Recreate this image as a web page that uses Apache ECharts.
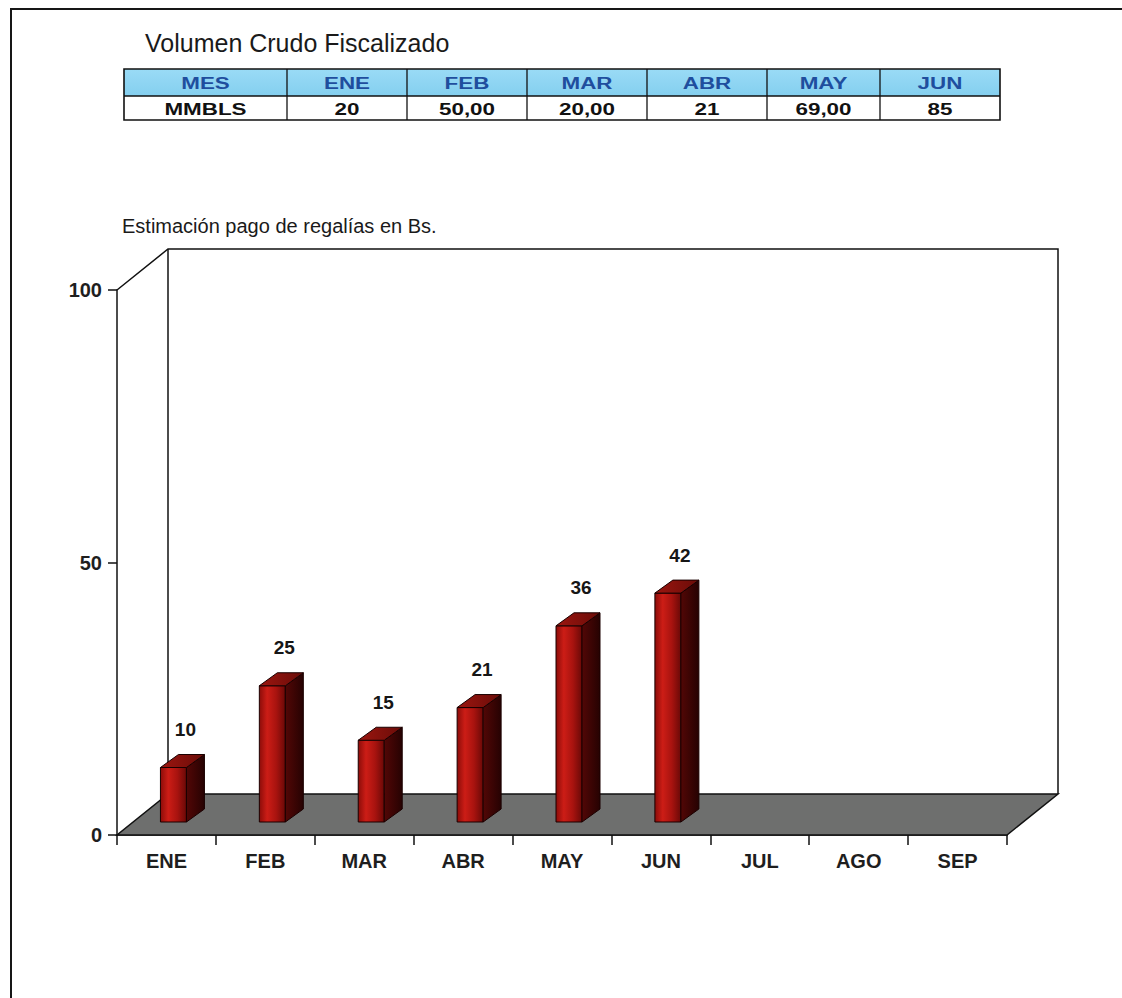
<!DOCTYPE html>
<html>
<head>
<meta charset="utf-8">
<script src="https://cdn.jsdelivr.net/npm/echarts@6/dist/echarts.min.js"></script>
<style>
  html, body { margin: 0; padding: 0; background: #ffffff; }
  #chart { width: 1122px; height: 998px; }
</style>
</head>
<body>
<div id="chart"></div>
<script>
// ---- data ----
const tableTitle = 'Volumen Crudo Fiscalizado';
const tableHeader = ['MES', 'ENE', 'FEB', 'MAR', 'ABR', 'MAY', 'JUN'];
const tableRow = ['MMBLS', '20', '50,00', '20,00', '21', '69,00', '85'];
const chartTitle = 'Estimación pago de regalías en Bs.';
const months = ['ENE', 'FEB', 'MAR', 'ABR', 'MAY', 'JUN', 'JUL', 'AGO', 'SEP'];
const regalias = [10, 25, 15, 21, 36, 42, null, null, null];
const yMin = 0, yMax = 100, yStep = 50;

// ---- layout ----
const FONT = '"Liberation Sans", Arial, Helvetica, sans-serif';
const DEPTH_X = 51, DEPTH_Y = 41;          // 3D depth of the plot box
const BAR_W = 26, BAR_DX = 18, BAR_DY = 13; // bar face width and bar depth
const BAR_SHIFT = -6, BAR_LIFT = 13;        // bar placement on the floor
const colEdges = [124, 287, 407, 527, 647, 767, 880, 1000];
const rowEdges = [69, 96, 120];
const CELL_STRETCH = 1.4;                   // wide, tracked lettering of the table

const chart = echarts.init(document.getElementById('chart'), null, { renderer: 'svg' });

// summary table above the chart
const tableGraphics = [];
const tableWidth = colEdges[colEdges.length - 1] - colEdges[0];
tableGraphics.push({
  type: 'rect', shape: { x: colEdges[0], y: rowEdges[0], width: tableWidth, height: rowEdges[1] - rowEdges[0] },
  style: { fill: new echarts.graphic.LinearGradient(0, 0, 0, 1, [
    { offset: 0, color: '#9adbf6' }, { offset: 1, color: '#84cfef' }]), stroke: null }
});
tableGraphics.push({
  type: 'rect', shape: { x: colEdges[0], y: rowEdges[0], width: tableWidth, height: rowEdges[2] - rowEdges[0] },
  style: { fill: null, stroke: '#111', lineWidth: 1.6 }
});
tableGraphics.push({
  type: 'line', shape: { x1: colEdges[0], y1: rowEdges[1], x2: colEdges[colEdges.length - 1], y2: rowEdges[1] },
  style: { stroke: '#111', lineWidth: 1.6 }
});
for (let c = 1; c < colEdges.length - 1; c++) {
  tableGraphics.push({
    type: 'line', shape: { x1: colEdges[c], y1: rowEdges[0], x2: colEdges[c], y2: rowEdges[2] },
    style: { stroke: '#111', lineWidth: 1.3 }
  });
}
function cellText(t, c, r, color) {
  return {
    type: 'text',
    x: (colEdges[c] + colEdges[c + 1]) / 2,
    y: (rowEdges[r] + rowEdges[r + 1]) / 2 + 1,
    scaleX: CELL_STRETCH,
    style: { text: t, x: 0, y: 0, align: 'center', verticalAlign: 'middle',
      font: 'bold 16px ' + FONT, fill: color }
  };
}
tableHeader.forEach((t, c) => tableGraphics.push(cellText(t, c, 0, '#1f4e9e')));
tableRow.forEach((t, c) => tableGraphics.push(cellText(t, c, 1, '#111')));

// 3D plot box: side wall edge, back wall outline and grey floor
function renderBox(params, api) {
  const cs = params.coordSys;
  const x0 = cs.x, x1 = cs.x + cs.width, y0 = cs.y, y1 = cs.y + cs.height;
  return {
    type: 'group',
    children: [
      { type: 'polyline', shape: { points: [[x0, y0], [x0 + DEPTH_X, y0 - DEPTH_Y], [x1 + DEPTH_X, y0 - DEPTH_Y], [x1 + DEPTH_X, y1 - DEPTH_Y]] },
        style: { stroke: '#111', lineWidth: 1.5, fill: null } },
      { type: 'line', shape: { x1: x0 + DEPTH_X, y1: y0 - DEPTH_Y, x2: x0 + DEPTH_X, y2: y1 - DEPTH_Y },
        style: { stroke: '#111', lineWidth: 1.5 } },
      { type: 'polygon', shape: { points: [[x0, y1], [x1, y1], [x1 + DEPTH_X, y1 - DEPTH_Y], [x0 + DEPTH_X, y1 - DEPTH_Y]] },
        style: { fill: '#6e6f6e', stroke: '#111', lineWidth: 1.5 } }
    ]
  };
}

// extruded bar with its value written above
function renderBar(params, api) {
  const v = api.value(1);
  if (v == null || isNaN(v)) return null;
  const base = api.coord([api.value(0), yMin]);
  const top = api.coord([api.value(0), v]);
  const xl = base[0] + BAR_SHIFT, xr = xl + BAR_W;
  const yb = base[1] - BAR_LIFT, yt = top[1] - BAR_LIFT;
  return {
    type: 'group',
    children: [
      { type: 'rect', shape: { x: xl, y: yt, width: BAR_W, height: yb - yt },
        style: { fill: new echarts.graphic.LinearGradient(0, 0, 1, 0, [
          { offset: 0, color: '#8c0c09' }, { offset: 0.3, color: '#cc1d16' },
          { offset: 0.65, color: '#a8130f' }, { offset: 1, color: '#6a0907' }]),
          stroke: '#1a0000', lineWidth: 1 } },
      { type: 'polygon', shape: { points: [[xr, yb], [xr + BAR_DX, yb - BAR_DY], [xr + BAR_DX, yt - BAR_DY], [xr, yt]] },
        style: { fill: new echarts.graphic.LinearGradient(0, 0, 1, 0, [
          { offset: 0, color: '#520706' }, { offset: 1, color: '#260202' }]),
          stroke: '#1a0000', lineWidth: 1 } },
      { type: 'polygon', shape: { points: [[xl, yt], [xr, yt], [xr + BAR_DX, yt - BAR_DY], [xl + BAR_DX, yt - BAR_DY]] },
        style: { fill: new echarts.graphic.LinearGradient(0, 0, 1, 0, [
          { offset: 0, color: '#9c1610' }, { offset: 1, color: '#6a0c08' }]),
          stroke: '#1a0000', lineWidth: 1 } },
      { type: 'text',
        style: { text: String(v), x: xl + BAR_W / 2 + 12, y: yt - 38, align: 'center', verticalAlign: 'middle',
          font: 'bold 19px ' + FONT, fill: '#161616' } }
    ]
  };
}

chart.setOption({
  animation: false,
  backgroundColor: '#ffffff',
  title: [
    { text: tableTitle, left: 145, top: 30, padding: 0,
      textStyle: { fontFamily: FONT, fontSize: 25, fontWeight: 'normal', color: '#1a1a1a' } },
    { text: chartTitle, left: 122, top: 216, padding: 0,
      textStyle: { fontFamily: FONT, fontSize: 20, fontWeight: 'normal', color: '#1a1a1a' } }
  ],
  grid: { left: 117, top: 290, width: 890, height: 545, containLabel: false },
  xAxis: {
    type: 'category', data: months, boundaryGap: true,
    axisLine: { lineStyle: { color: '#111', width: 1.5 } },
    axisTick: { show: true, length: 10, alignWithLabel: false, lineStyle: { color: '#111', width: 1.5 } },
    axisLabel: { margin: 16, fontFamily: FONT, fontSize: 20, fontWeight: 'bold', color: '#1e1e1e' },
    splitLine: { show: false }
  },
  yAxis: {
    type: 'value', min: yMin, max: yMax, interval: yStep,
    axisLine: { show: true, lineStyle: { color: '#111', width: 1.5 } },
    axisTick: { show: true, length: 9, lineStyle: { color: '#111', width: 1.5 } },
    axisLabel: { margin: 15, fontFamily: FONT, fontSize: 20, fontWeight: 'bold', color: '#1e1e1e' },
    splitLine: { show: false }
  },
  graphic: [
    { type: 'rect', shape: { x: 11, y: 9, width: 1300, height: 1200 },
      style: { fill: null, stroke: '#161616', lineWidth: 2 }, z: 0 },
    ...tableGraphics
  ],
  series: [
    { type: 'custom', name: 'box', z: 1, silent: true, clip: false,
      renderItem: renderBox, data: [[0, 0]], encode: { x: 0, y: 1 } },
    { type: 'custom', name: 'Regalías', z: 3, clip: false,
      renderItem: renderBar, data: months.map((m, i) => [i, regalias[i]]), encode: { x: 0, y: 1 } }
  ]
});
</script>
</body>
</html>
